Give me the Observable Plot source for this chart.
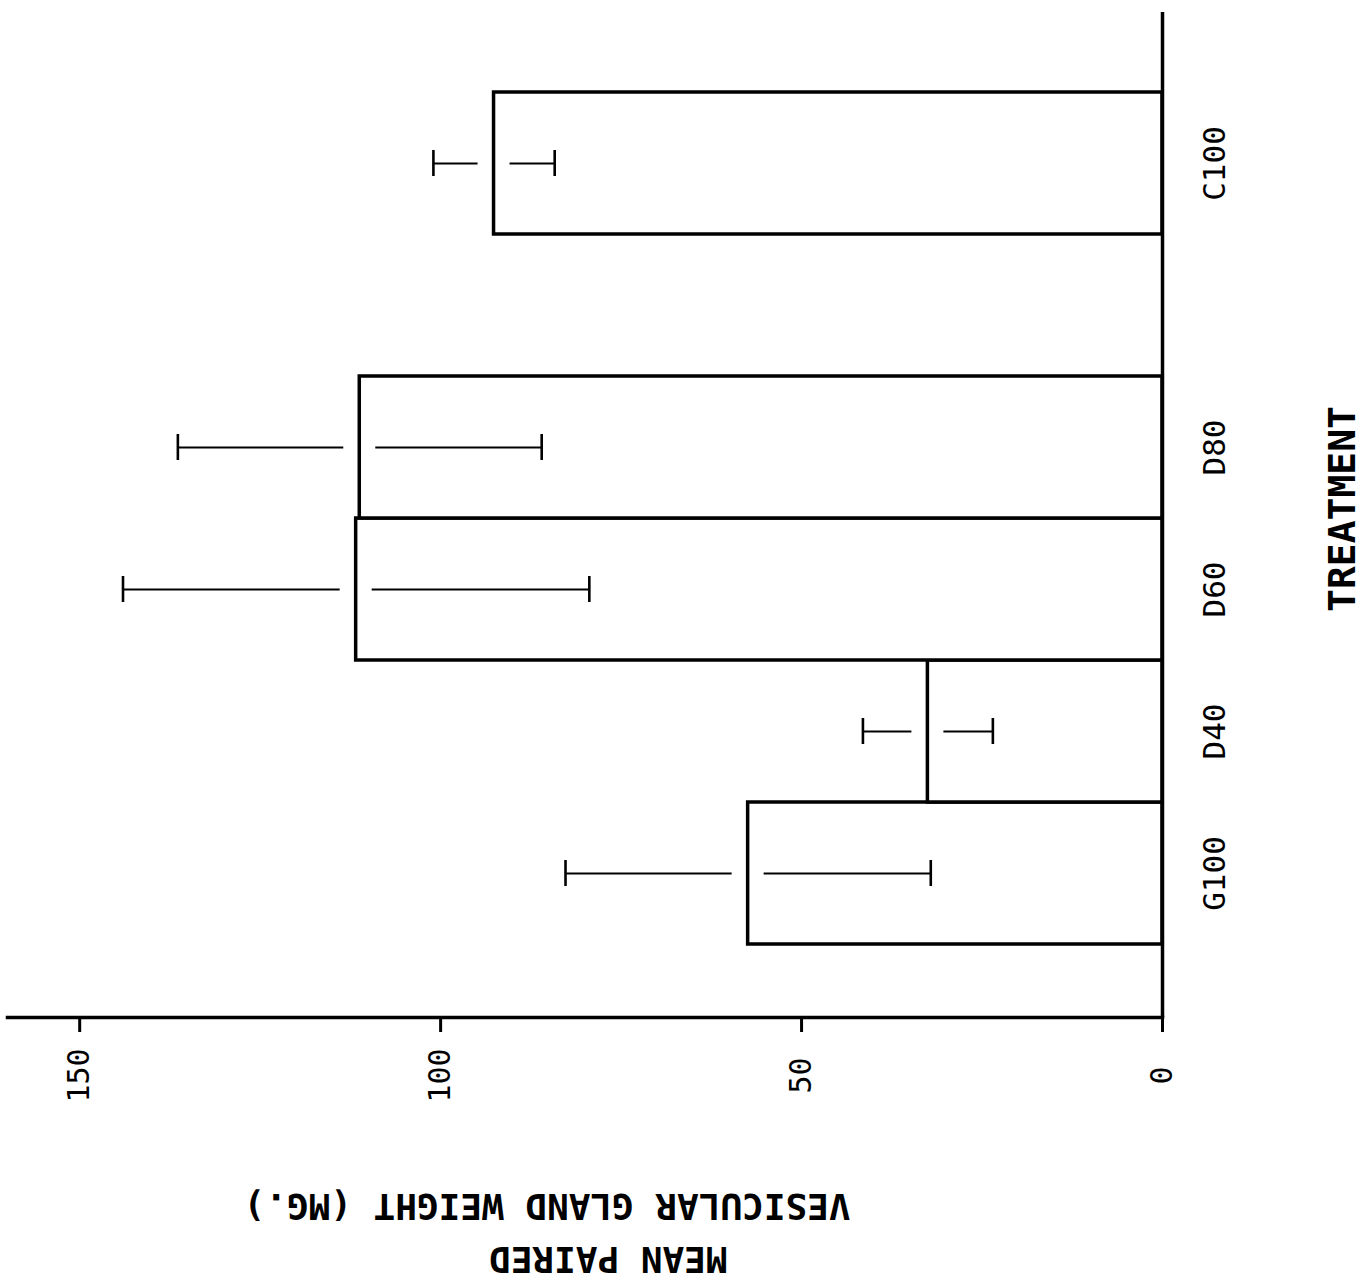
<!DOCTYPE html>
<html><head><meta charset="utf-8">
<script src="https://cdn.jsdelivr.net/npm/d3@7"></script>
<script src="https://cdn.jsdelivr.net/npm/@observablehq/plot@0.6"></script>
<style>body{margin:0;background:#fff}#chart{width:1370px;height:1286px}</style>
</head><body><div id="chart"></div>
<script>
// Data
const categories = ["G100", "D40", "D60", "D80", "C100"];
const means = [57.4, 32.5, 111.7, 111.2, 92.6];
const errors = [25.3, 9.0, 32.3, 25.2, 8.4];
// category slots, top to bottom (one empty slot between D80 and C100)
const slots = ["C100", " ", "D80", "D60", "D40", "G100"];
const valueTicks = [0, 50, 100, 150];
const xTitle = "TREATMENT";
const yTitle1 = "MEAN PAIRED";
const yTitle2 = "VESICULAR GLAND WEIGHT (MG.)";

const data = categories.map((c, i) => ({
  cat: c, mean: means[i], lo: means[i] - errors[i], hi: means[i] + errors[i]
}));

const mono = "'DejaVu Sans Mono', 'Liberation Mono', monospace";

const plot = Plot.plot({
  width: 1370, height: 1286,
  marginTop: 12, marginBottom: 269, marginLeft: 7, marginRight: 208,
  style: {fontFamily: mono, background: "#fff", color: "#000"},
  x: {domain: [0, 160], reverse: true},
  y: {type: "band", domain: slots, paddingInner: 0, paddingOuter: 0.525, align: 0.52},
  marks: [
    Plot.barX(data, {y: "cat", x1: 0, x2: "mean", fill: "white", stroke: "black", strokeWidth: 3.5}),
    Plot.ruleY(data, {y: "cat", x1: "hi", x2: "mean", insetRight: 16, stroke: "black", strokeWidth: 2.2}),
    Plot.ruleY(data, {y: "cat", x1: "mean", x2: "lo", insetLeft: 16, stroke: "black", strokeWidth: 2.2}),
    Plot.tickX(data, {y: "cat", x: "hi", insetTop: 58, insetBottom: 58, stroke: "black", strokeWidth: 2.6}),
    Plot.tickX(data, {y: "cat", x: "lo", insetTop: 58, insetBottom: 58, stroke: "black", strokeWidth: 2.6}),
    Plot.ruleX([0], {stroke: "black", strokeWidth: 3.5}),
    Plot.frame({anchor: "bottom", stroke: "black", strokeWidth: 3.5}),
    Plot.axisX({ticks: valueTicks, tickSize: 15, tickPadding: 43, tickRotate: -90,
      textAnchor: "middle", lineAnchor: "middle", fontSize: 30, strokeWidth: 3, label: null}),
    Plot.axisY({anchor: "right", ticks: categories, tickSize: 0, tickPadding: 53, tickRotate: -90,
      textAnchor: "middle", lineAnchor: "middle", fontSize: 31, label: null}),
    Plot.text([xTitle], {frameAnchor: "right", dx: 180, dy: -6, rotate: -90, fontSize: 38,
      fontWeight: "bold", textAnchor: "middle", lineAnchor: "middle", fill: "black"}),
    Plot.text([yTitle2], {frameAnchor: "bottom-right", dx: -312, dy: 188, rotate: 180, fontSize: 36,
      fontWeight: "bold", textAnchor: "start", lineAnchor: "middle", fill: "black"}),
    Plot.text([yTitle1], {frameAnchor: "bottom-right", dx: -435, dy: 241, rotate: 180, fontSize: 36,
      fontWeight: "bold", textAnchor: "start", lineAnchor: "middle", fill: "black"})
  ]
});
document.getElementById("chart").append(plot);
</script>
</body></html>
